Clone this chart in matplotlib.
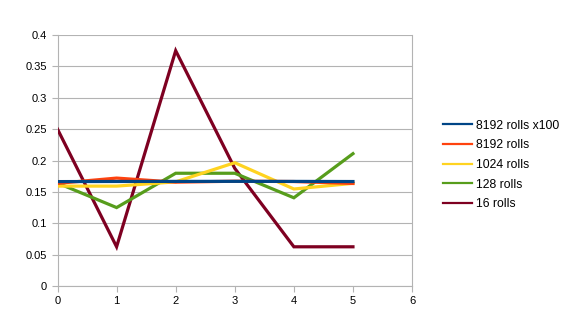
import matplotlib
matplotlib.use("Agg")
import matplotlib.pyplot as plt
from matplotlib.lines import Line2D

x = [0, 1, 2, 3, 4, 5]
labels = ["8192 rolls x100", "8192 rolls", "1024 rolls", "128 rolls", "16 rolls"]
s8192x100 = [0.1664, 0.1666, 0.1667, 0.1668, 0.1667, 0.1665]
s8192 = [0.1636, 0.1720, 0.1655, 0.1670, 0.1665, 0.1634]
s1024 = [0.1592, 0.1592, 0.1660, 0.1965, 0.1546, 0.1636]
s128 = [0.1641, 0.1250, 0.1797, 0.1797, 0.1406, 0.2109]
s16 = [0.2500, 0.0625, 0.3750, 0.1875, 0.0625, 0.0625]
colors = ["#004586", "#ff420e", "#ffd320", "#579d1c", "#7e0021"]
series = [s8192x100, s8192, s1024, s128, s16]

plt.rcParams['font.family'] = ['Liberation Sans', 'DejaVu Sans']
fig = plt.figure(figsize=(5.66, 3.3), dpi=100)
ax = fig.add_axes([0.1016, 0.1333, 0.6264, 0.7606])

for i, (lab, ys, c) in enumerate(zip(labels, series, colors)):
    ax.plot(x, ys, color=c, lw=2.3, label=lab, zorder=10 - i, solid_joinstyle='miter')

ax.set_xlim(0, 6)
ax.set_ylim(0, 0.4)
ax.set_xticks(range(0, 7))
ax.set_yticks([i * 0.05 for i in range(9)])
ax.set_yticklabels(["0", "0.05", "0.1", "0.15", "0.2", "0.25", "0.3", "0.35", "0.4"])
ax.yaxis.grid(True, color="#b3b3b3", lw=0.8)
ax.set_axisbelow(True)
ax.spines["top"].set_visible(False)
for side in ["left", "bottom", "right"]:
    ax.spines[side].set_color("#b3b3b3")
    ax.spines[side].set_linewidth(0.8)
ax.tick_params(axis="both", colors="#b3b3b3", labelcolor="black", labelsize=8, length=4, width=0.8)

handles = [Line2D([0], [0], color=c, lw=1.6) for c in colors]
fig.legend(handles=handles, labels=labels, loc="center left", bbox_to_anchor=(0.783, 0.50),
           frameon=False, fontsize=8.8, handlelength=2.35, handletextpad=0.32, labelspacing=0.63,
           borderpad=0, borderaxespad=0)

fig.savefig("out.png", dpi=100)
